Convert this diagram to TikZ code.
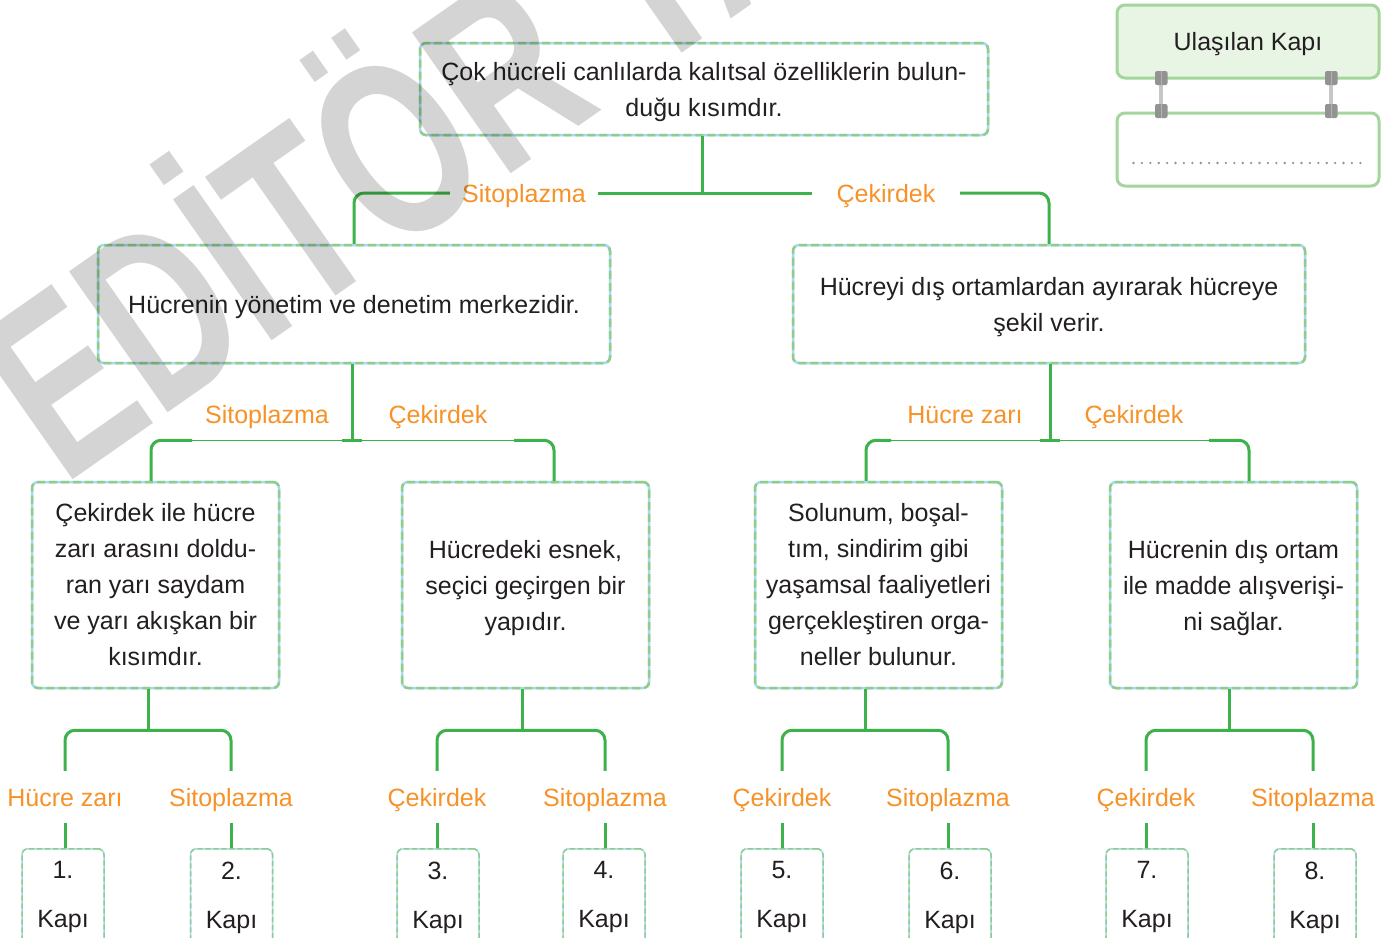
\documentclass[tikz,border=0pt]{standalone}
\usepackage{fontspec}
\setmainfont{Liberation Sans}
\usetikzlibrary{positioning, calc}
\definecolor{LineGreen}{RGB}{62,178,74}
\definecolor{LabelOrange}{RGB}{246,146,40}
\definecolor{DashGreen}{RGB}{146,204,138}
\definecolor{DashBlue}{RGB}{164,218,240}
\definecolor{TextDark}{RGB}{35,31,32}
\definecolor{LegendFill}{RGB}{232,244,228}
\definecolor{LegendLine}{RGB}{163,213,156}
\definecolor{MarkGray}{RGB}{212,212,212}
\newcommand{\tallstrut}{\rule{0pt}{24pt}}

\begin{document}
\begin{tikzpicture}[x=1pt, y=-1pt,
            box/.style={draw=DashBlue, line width=2.5pt, rounded corners=6pt, fill=white, align=center, text=TextDark, font=\fontsize{25}{36}\selectfont, inner sep=0pt, postaction={draw=DashGreen, line width=2.5pt, dash pattern=on 8pt off 4pt}},
            kapi/.style={draw=DashBlue, line width=1.5pt, rounded corners=6pt, align=center, text=TextDark, font=\fontsize{25}{49}\selectfont, minimum width=82pt, inner xsep=0pt, inner ysep=13pt, anchor=north, postaction={draw=DashGreen, line width=1.5pt, dash pattern=on 5pt off 3pt}},
            lab/.style={text=LabelOrange, font=\fontsize{25}{30}\selectfont, inner sep=0pt, text height=18pt, text depth=0pt},
            gate/.style={lab, minimum height=52pt},
            conn/.style={draw=LineGreen, line width=3pt},
            thinconn/.style={draw=LineGreen, line width=1.5pt},
            legend/.style={draw=LegendLine, line width=3pt, rounded corners=8pt, minimum width=262pt, minimum height=73pt, text=TextDark, font=\fontsize{25}{30}\selectfont}
        ]
        \fill[white] (0,0) rectangle (1397,937);
        \useasboundingbox (0,0) rectangle (1397,937);

        % The Boxes
        \node[box, minimum width=568pt, minimum height=92pt] (top) at (704,89) {\tallstrut Çok hücreli canlılarda kalıtsal özelliklerin bulun-\\duğu kısımdır.};
        \node[box, minimum width=512pt, minimum height=118pt, text height=24pt] (L1) at (354,304) {Hücrenin yönetim ve denetim merkezidir.};
        \node[box, minimum width=512pt, minimum height=118pt] (R1) at (1049,304) {\tallstrut Hücreyi dış ortamlardan ayırarak hücreye\\şekil verir.};

        \node[box, minimum width=247pt, minimum height=206pt] (B1) at (155.5,585) {Çekirdek ile hücre\\zarı arasını doldu-\\ran yarı saydam\\ve yarı akışkan bir\\kısımdır.};
        \node[box, minimum width=247pt, minimum height=206pt] (B2) at (525.5,585) {\tallstrut Hücredeki esnek,\\seçici geçirgen bir\\yapıdır.};
        \node[box, minimum width=247pt, minimum height=206pt] (B3) at (878.5,585) {Solunum, boşal-\\tım, sindirim gibi\\yaşamsal faaliyetleri\\gerçekleştiren orga-\\neller bulunur.};
        \node[box, minimum width=247pt, minimum height=206pt] (B4) at (1233.5,585) {\tallstrut Hücrenin dış ortam\\ile madde alışverişi-\\ni sağlar.};

        % Labels
        \node[lab, minimum width=148pt] (sitoA) at (524,193) {Sitoplazma};
        \node[lab, minimum width=148pt] (cekA) at (886,193) {Çekirdek};

        \node[lab] (sitoB) at (267,414) {Sitoplazma};
        \node[lab] (cekB) at (438,414) {Çekirdek};
        \node[lab] (zarC) at (965,414) {Hücre zarı};
        \node[lab] (cekC) at (1134,414) {Çekirdek};

        \node[gate] (g1) at (65,797) {Hücre zarı};
        \node[gate] (g2) at (231,797) {Sitoplazma};
        \node[gate] (g3) at (437,797) {Çekirdek};
        \node[gate] (g4) at (605,797) {Sitoplazma};
        \node[gate] (g5) at (782,797) {Çekirdek};
        \node[gate] (g6) at (948,797) {Sitoplazma};
        \node[gate] (g7) at (1146,797) {Çekirdek};
        \node[gate] (g8) at (1313,797) {Sitoplazma};

        \node[kapi] (k1) at (63,848) {1.\\Kapı};
        \node[kapi] (k2) at (231.5,848) {2.\\Kapı};
        \node[kapi] (k3) at (438,848) {3.\\Kapı};
        \node[kapi] (k4) at (604,848) {4.\\Kapı};
        \node[kapi] (k5) at (782,848) {5.\\Kapı};
        \node[kapi] (k6) at (950,848) {6.\\Kapı};
        \node[kapi] (k7) at (1147,848) {7.\\Kapı};
        \node[kapi] (k8) at (1315,848) {8.\\Kapı};

        % Connectors
        \draw[conn] ($(top.south)+(-2,0)$) -- ($(top.south |- sitoA)+(-2,0)$);
        \draw[conn] (sitoA.east) -- (cekA.west);
        \draw[conn, rounded corners=10pt] (sitoA.west) -| (L1.north);
        \draw[conn, rounded corners=10pt] (cekA.east) -| (R1.north);

        \coordinate (j2) at ($(L1.south)+(-2,76)$);
        \draw[conn] ($(L1.south)+(-2,0)$) -- (j2);
        \draw[conn] ($(j2)+(-10,0)$) -- ($(j2)+(10,0)$);
        \draw[thinconn] ($(j2)+(-160,0)$) -- ($(j2)+(162,0)$);
        \draw[conn, rounded corners=10pt] ($(j2)+(-160,0)$) -| ($(B1.north)+(-4.5,0)$);
        \draw[conn, rounded corners=10pt] ($(j2)+(162,0)$) -| ($(B2.north)+(28.5,0)$);

        \coordinate (j3) at ($(R1.south)+(1,76)$);
        \draw[conn] ($(R1.south)+(1,0)$) -- (j3);
        \draw[conn] ($(j3)+(-10,0)$) -- ($(j3)+(10,0)$);
        \draw[thinconn] ($(j3)+(-159,0)$) -- ($(j3)+(159,0)$);
        \draw[conn, rounded corners=10pt] ($(j3)+(-159,0)$) -| ($(B3.north)+(-12.5,0)$);
        \draw[conn, rounded corners=10pt] ($(j3)+(159,0)$) -| ($(B4.north)+(15.5,0)$);

        \draw[conn] ($(B1.south)+(-7.5,0)$) -- ++(0,41);
        \draw[conn, rounded corners=10pt] (g1.north) |- ($(B1.south)+(-7.5,41)$) -| (g2.north);
        \draw[conn] ($(B2.south)+(-3.5,0)$) -- ++(0,41);
        \draw[conn, rounded corners=10pt] (g3.north) |- ($(B2.south)+(-3.5,41)$) -| (g4.north);
        \draw[conn] ($(B3.south)+(-13.5,0)$) -- ++(0,41);
        \draw[conn, rounded corners=10pt] (g5.north) |- ($(B3.south)+(-13.5,41)$) -| (g6.north);
        \draw[conn] ($(B4.south)+(-4.5,0)$) -- ++(0,41);
        \draw[conn, rounded corners=10pt] (g7.north) |- ($(B4.south)+(-4.5,41)$) -| (g8.north);

        \draw[conn] (g1.south) -- (g1.south |- k1.north);
        \draw[conn] (g2.south) -- (g2.south |- k2.north);
        \draw[conn] (g3.south) -- (g3.south |- k3.north);
        \draw[conn] (g4.south) -- (g4.south |- k4.north);
        \draw[conn] (g5.south) -- (g5.south |- k5.north);
        \draw[conn] (g6.south) -- (g6.south |- k6.north);
        \draw[conn] (g7.south) -- (g7.south |- k7.north);
        \draw[conn] (g8.south) -- (g8.south |- k8.north);

        % Legend
        \draw[line width=4pt, gray!45] (1161,84) -- (1161,104);
        \draw[line width=4pt, gray!45] (1331,84) -- (1331,104);
        \node[legend, fill=LegendFill, execute at begin node=\rule{0pt}{24pt}] (reached) at (1248,41.5) {Ulaşılan Kapı};
        \node[legend, fill=white] (blank) at (1248,149.5) {};
        \draw[gray!85, line width=2.6pt, line cap=round, dash pattern=on 0pt off 8.4pt] ($(blank.west)+(18,13.5)$) -- ($(blank.east)+(-16,13.5)$);
        \fill[gray!85, rounded corners=2pt] (1155,71) rectangle (1167.5,85);
        \fill[gray!85, rounded corners=2pt] (1325,71) rectangle (1337.5,85);
        \fill[gray!85, rounded corners=2pt] (1155,104) rectangle (1167.5,118);
        \fill[gray!85, rounded corners=2pt] (1325,104) rectangle (1337.5,118);
        \draw[gray!60, line width=0.8pt] (1161.2,71) -- (1161.2,85) (1331.2,71) -- (1331.2,85) (1161.2,104) -- (1161.2,118) (1331.2,104) -- (1331.2,118);

        % Watermark
        \begin{scope}[blend mode=multiply]
        \node[text=MarkGray, font=\fontsize{250}{250}\selectfont\bfseries, rotate=35, anchor=base west, inner sep=0pt] (mark) at (63,487) {\scalebox{0.7}[1]{EDİTÖR YA}};
        \end{scope}

        \end{tikzpicture}
\end{document}
